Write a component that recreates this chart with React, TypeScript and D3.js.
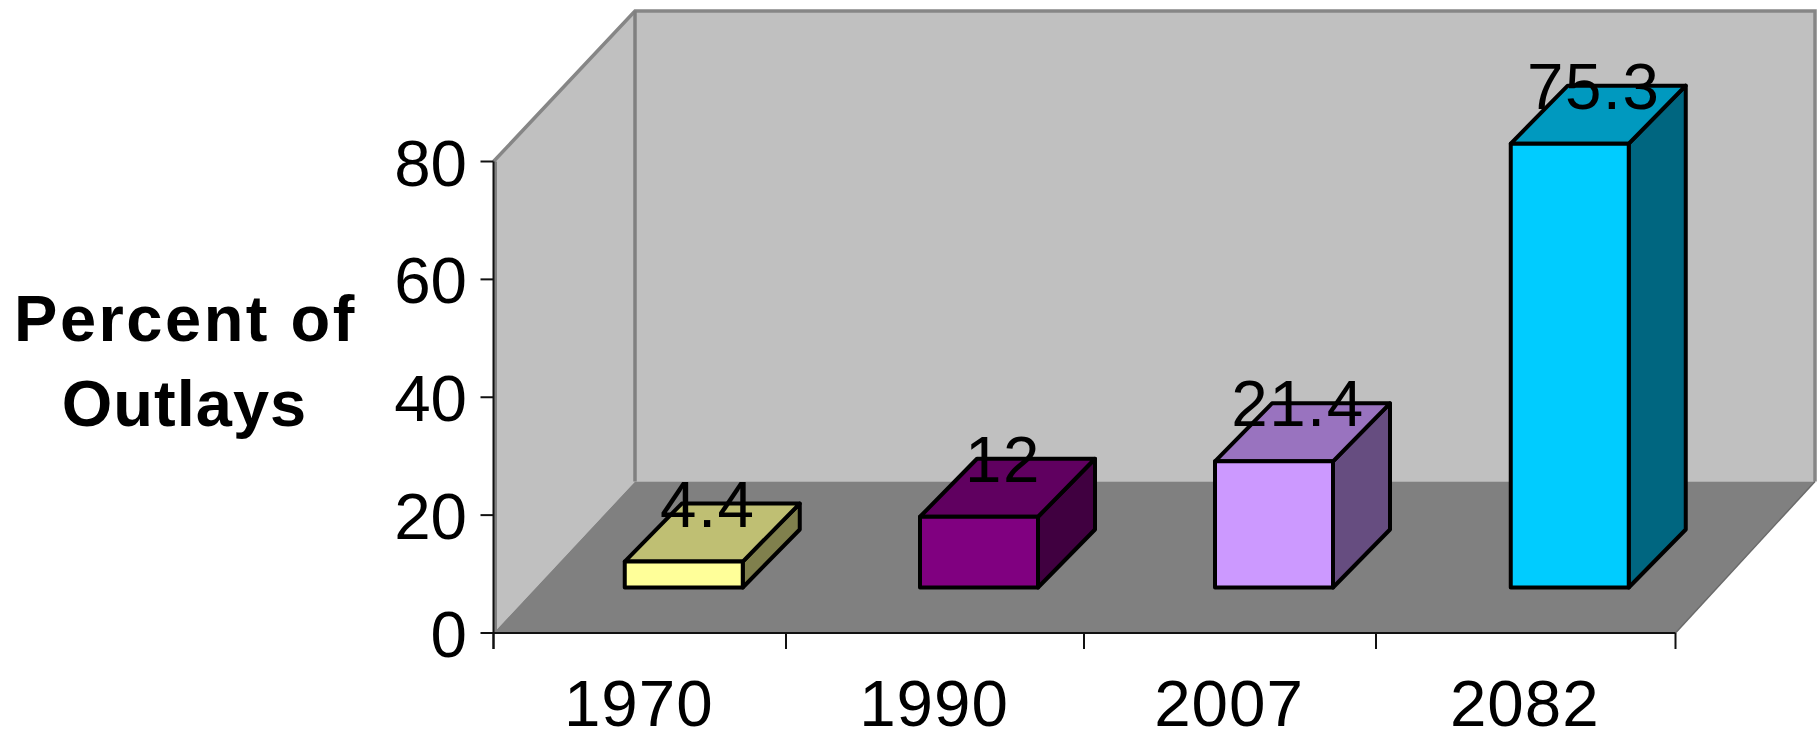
import React from "react";
import * as d3 from "d3";

const categories = ["1970", "1990", "2007", "2082"];
const outlayPercents = [4.4, 12, 21.4, 75.3];
const valueLabels = ["4.4", "12", "21.4", "75.3"];
const yTicks = [0, 20, 40, 60, 80];
const faceColors = ["#FFFF99", "#800080", "#CC99FF", "#00CCFF"];
const topColors = ["#BFBF73", "#600060", "#9973BF", "#0099BF"];
const sideColors = ["#80804D", "#400040", "#664D80", "#006680"];

const WIDTH = 1817;
const HEIGHT = 733;
const FONT = "'Liberation Sans', Arial, sans-serif";

// Front plane of the plot and the receding offset of the back wall.
const frontLeft = 493.5;
const frontRight = 1675.5;
const floorY = 633;
const topY = 161.5;
const wallDx = 141.5;
const wallDy = 151.5;

// Bars stand part-way into the floor and have a fixed depth.
const barInsetX = 44;
const barInsetY = 45.5;
const barDepthX = 57;
const barDepthY = 58;
const barWidth = 118;

// Category slots are laid out on whole device steps, so their widths differ slightly.
const slotEdges = [frontLeft, 786, 1084, 1376, frontRight];
const x = d3.scaleLinear().domain([0, 1, 2, 3, 4]).range(slotEdges);
const y = d3.scaleLinear().domain([0, 80]).range([floorY, topY]);
const poly = d3.line().curve(d3.curveLinearClosed);

export default function App() {
  const backLeft = frontLeft + wallDx;
  const backRight = frontRight + wallDx - 2;
  const backBottom = floorY - wallDy;
  const backTop = topY - wallDy + 1;

  return (
    <svg
      width={WIDTH}
      height={HEIGHT}
      viewBox={`0 0 ${WIDTH} ${HEIGHT}`}
      style={{ position: "absolute", left: 0, top: 0, display: "block", background: "#fff" }}
      fontFamily={FONT}
    >
      {/* Walls and floor */}
      <path
        d={poly([[backLeft, backTop], [backRight, backTop], [backRight, backBottom], [backLeft, backBottom]]) ?? ""}
        fill="#C0C0C0"
      />
      <path
        d={poly([[frontLeft, topY], [backLeft, backTop], [backLeft, backBottom], [frontLeft, floorY]]) ?? ""}
        fill="#C0C0C0"
      />
      <path
        d={poly([[frontLeft, floorY], [backLeft, backBottom], [backRight, backBottom], [frontRight, floorY]]) ?? ""}
        fill="#808080"
      />
      <path
        d={`M${frontLeft},${topY}L${backLeft},${backTop}L${backRight},${backTop}L${backRight},${backBottom}`}
        fill="none"
        stroke="#868686"
        strokeWidth={3.5}
      />
      <line x1={backLeft} x2={backLeft} y1={backTop} y2={backBottom} stroke="#808080" strokeWidth={3.5} />
      <line x1={frontLeft + 2} x2={frontLeft + 2} y1={topY} y2={floorY} stroke="#808080" strokeWidth={3} />
      <line x1={backRight} x2={frontRight} y1={backBottom} y2={floorY} stroke="#6a6a6a" strokeWidth={1.5} />

      {/* Bars */}
      {categories.map((c, i) => {
        const centre = (x(i) + x(i + 1)) / 2 + barInsetX;
        const left = centre - barWidth / 2;
        const right = left + barWidth;
        const base = floorY - barInsetY;
        const top = y(outlayPercents[i]) - barInsetY;
        const stroke = { stroke: "#000", strokeWidth: 4, strokeLinejoin: "round" as const };
        return (
          <g key={c}>
            <path
              d={poly([[right, top], [right + barDepthX, top - barDepthY], [right + barDepthX, base - barDepthY], [right, base]]) ?? ""}
              fill={sideColors[i]}
              {...stroke}
            />
            <path
              d={poly([[left, top], [left + barDepthX, top - barDepthY], [right + barDepthX, top - barDepthY], [right, top]]) ?? ""}
              fill={topColors[i]}
              {...stroke}
            />
            <path
              d={poly([[left, top], [right, top], [right, base], [left, base]]) ?? ""}
              fill={faceColors[i]}
              {...stroke}
            />
          </g>
        );
      })}

      {/* Value axis */}
      <line x1={frontLeft} x2={frontLeft} y1={topY} y2={floorY + 16} stroke="#111" strokeWidth={2} />
      {yTicks.map((t) => (
        <g key={t}>
          <line x1={frontLeft - 13} x2={frontLeft} y1={y(t)} y2={y(t)} stroke="#111" strokeWidth={2} />
          <text x={467} y={y(t) + 24} textAnchor="end" fontSize={65.5} fill="#000">
            {t}
          </text>
        </g>
      ))}

      {/* Category axis */}
      <line x1={frontLeft} x2={frontRight} y1={floorY} y2={floorY} stroke="#111" strokeWidth={2} />
      {slotEdges.map((edge) => (
        <line key={edge} x1={edge} x2={edge} y1={floorY} y2={floorY + 16} stroke="#111" strokeWidth={2} />
      ))}
      {categories.map((c, i) => (
        <text
          key={c}
          x={(x(i) + x(i + 1)) / 2 - 1}
          y={726}
          textAnchor="middle"
          fontSize={65.5}
          letterSpacing={1}
          fill="#000"
        >
          {c}
        </text>
      ))}

      {/* Value labels */}
      {categories.map((c, i) => (
        <text
          key={c}
          x={(x(i) + x(i + 1)) / 2 + barInsetX + 24}
          y={y(outlayPercents[i]) - barInsetY - 35}
          textAnchor="middle"
          fontSize={65.5}
          letterSpacing={1.5}
          fill="#000"
        >
          {valueLabels[i]}
        </text>
      ))}

      {/* Axis title */}
      <text x={185.5} y={341} textAnchor="middle" fontSize={65} fontWeight="bold" letterSpacing={2.5} fill="#000">
        Percent of
      </text>
      <text x={184.5} y={426} textAnchor="middle" fontSize={65} fontWeight="bold" letterSpacing={1} fill="#000">
        Outlays
      </text>
    </svg>
  );
}
